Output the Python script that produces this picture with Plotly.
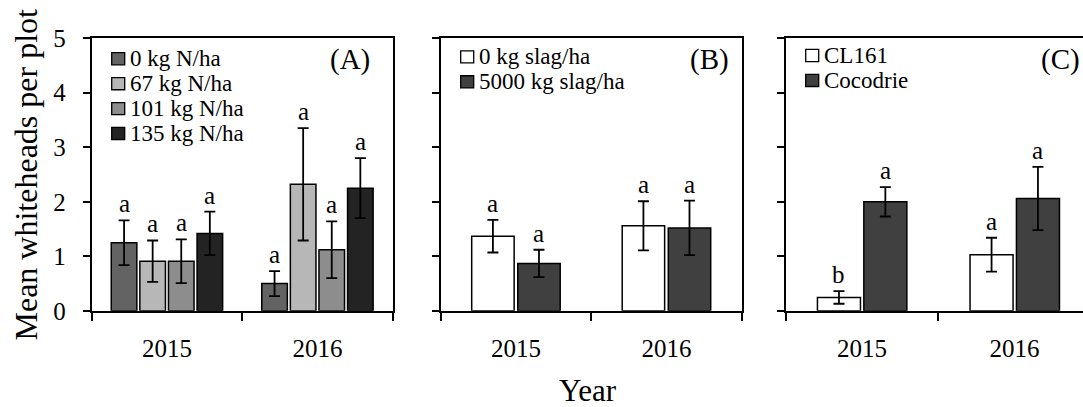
import plotly.graph_objects as go

W, H = 1083, 407
FONT = "Liberation Serif, Times New Roman, serif"

years = ["2015", "2016"]

# (A) nitrogen rate
n_rates = ["0 kg N/ha", "67 kg N/ha", "101 kg N/ha", "135 kg N/ha"]
n_means = [[1.25, 0.50], [0.91, 2.32], [0.91, 1.12], [1.42, 2.25]]
n_se = [[0.41, 0.23], [0.38, 1.03], [0.40, 0.52], [0.40, 0.55]]
n_letters = [["a", "a"], ["a", "a"], ["a", "a"], ["a", "a"]]
n_colors = ["#636363", "#b7b7b7", "#8d8d8d", "#232323"]

# (B) slag rate
slag_rates = ["0 kg slag/ha", "5000 kg slag/ha"]
slag_means = [[1.37, 1.56], [0.87, 1.52]]
slag_se = [[0.30, 0.45], [0.25, 0.50]]
slag_letters = [["a", "a"], ["a", "a"]]
slag_colors = ["#ffffff", "#404040"]

# (C) cultivar
cultivars = ["CL161", "Cocodrie"]
cult_means = [[0.245, 1.03], [2.00, 2.06]]
cult_se = [[0.115, 0.31], [0.27, 0.58]]
cult_letters = [["b", "a"], ["a", "a"]]
cult_colors = ["#ffffff", "#404040"]

y_ticks = [0, 1, 2, 3, 4, 5]

# panel layout in pixels: left, right, category width, legend top row, label right edge
panels = [
    dict(tag="(A)", names=n_rates, means=n_means, se=n_se, letters=n_letters,
         colors=n_colors, x0=91.7, x1=392.7, cat=150.5, width=0.17,
         offsets=[-0.37, -0.18, 0.01, 0.20], row0=49.0, lab_r=372.0),
    dict(tag="(B)", names=slag_rates, means=slag_means, se=slag_se, letters=slag_letters,
         colors=slag_colors, x0=440.7, x1=741.7, cat=150.5, width=0.282,
         offsets=[-0.294, 0.012], row0=47.0, lab_r=730.5),
    dict(tag="(C)", names=cultivars, means=cult_means, se=cult_se, letters=cult_letters,
         colors=cult_colors, x0=785.7, x1=1083.0, cat=152.6, width=0.282,
         offsets=[-0.292, 0.012], row0=45.5, lab_r=1082.0),
]

Y_TOP, Y_BOT = 27.0, 319.0


def px(x):
    return x / W


def py(y):
    return 1 - y / H


fig = go.Figure()
annotations = []
shapes = []

for k, p in enumerate(panels):
    sfx = "" if k == 0 else str(k + 1)
    xa, ya = "x" + sfx, "y" + sfx
    for i, name in enumerate(p["names"]):
        fig.add_trace(go.Bar(
            x=years, y=p["means"][i], name=name, xaxis=xa, yaxis=ya,
            width=p["width"], offset=p["offsets"][i],
            marker=dict(color=p["colors"][i], line=dict(color="black", width=1.5)),
            error_y=dict(type="data", array=p["se"][i], color="black",
                         thickness=1.8, width=5.5),
            showlegend=False, hoverinfo="skip",
        ))
        # significance letters above the error bars
        for j in range(len(years)):
            annotations.append(dict(
                x=j + p["offsets"][i] + p["width"] / 2,
                y=p["means"][i][j] + p["se"][i][j],
                xref=xa, yref=ya, text=p["letters"][i][j], showarrow=False,
                xanchor="center", yanchor="bottom", yshift=1,
                font=dict(family=FONT, size=25, color="black"),
            ))
        # legend entry: swatch + label
        cy = p["row0"] + i * 26.7
        sx = p["x0"] + 20
        shapes.append(dict(
            type="rect", xref="paper", yref="paper",
            x0=px(sx), x1=px(sx + 13), y0=py(cy + 6.5), y1=py(cy - 6.5),
            fillcolor=p["colors"][i], line=dict(color="black", width=1.3),
        ))
        annotations.append(dict(
            x=px(sx + 16), y=py(cy), xref="paper", yref="paper", text=name,
            showarrow=False, xanchor="left", yanchor="middle",
            font=dict(family=FONT, size=23, color="black"),
        ))
    # panel tag
    annotations.append(dict(
        x=px(p["lab_r"]), y=py(50), xref="paper", yref="paper", text=p["tag"],
        showarrow=False, xanchor="right", yanchor="middle",
        font=dict(family=FONT, size=29, color="black"),
    ))

    n_cat = (p["x1"] - p["x0"]) / p["cat"]
    fig.update_layout(**{
        "xaxis" + sfx: dict(
            domain=[px(p["x0"]), px(p["x1"])], anchor=ya, type="category",
            range=[-0.5, -0.5 + n_cat], tickson="boundaries",
            ticks="outside", ticklen=8, tickwidth=1.8, tickcolor="black",
            showline=True, linewidth=1.8, linecolor="black", mirror=True,
            showgrid=False, ticklabelstandoff=14,
            tickfont=dict(family=FONT, size=25, color="black"), fixedrange=True,
        ),
        "yaxis" + sfx: dict(
            domain=[py(Y_BOT), py(Y_TOP)], anchor=xa, range=[0, 5],
            tickvals=y_ticks, showticklabels=(k == 0),
            ticks="outside", ticklen=7, tickwidth=1.8, tickcolor="black",
            showline=True, linewidth=1.8, linecolor="black", mirror=(k < 2),
            showgrid=False, zeroline=False, ticklabelstandoff=12,
            tickfont=dict(family=FONT, size=25, color="black"), fixedrange=True,
        ),
    })

# axis titles
annotations.append(dict(
    x=px(26), y=py((Y_TOP + Y_BOT) / 2), xref="paper", yref="paper",
    text="Mean whiteheads per plot", textangle=-90, showarrow=False,
    xanchor="center", yanchor="middle",
    font=dict(family=FONT, size=32, color="black"),
))
annotations.append(dict(
    x=px(588), y=py(404), xref="paper", yref="paper", text="Year",
    showarrow=False, xanchor="center", yanchor="middle",
    font=dict(family=FONT, size=31, color="black"),
))

fig.update_layout(
    width=W, height=H, margin=dict(l=0, r=0, t=0, b=0),
    paper_bgcolor="white", plot_bgcolor="white",
    barmode="overlay", showlegend=False,
    annotations=annotations, shapes=shapes,
    font=dict(family=FONT, color="black"),
)

fig.write_html("out.html", config={"displayModeBar": False})
